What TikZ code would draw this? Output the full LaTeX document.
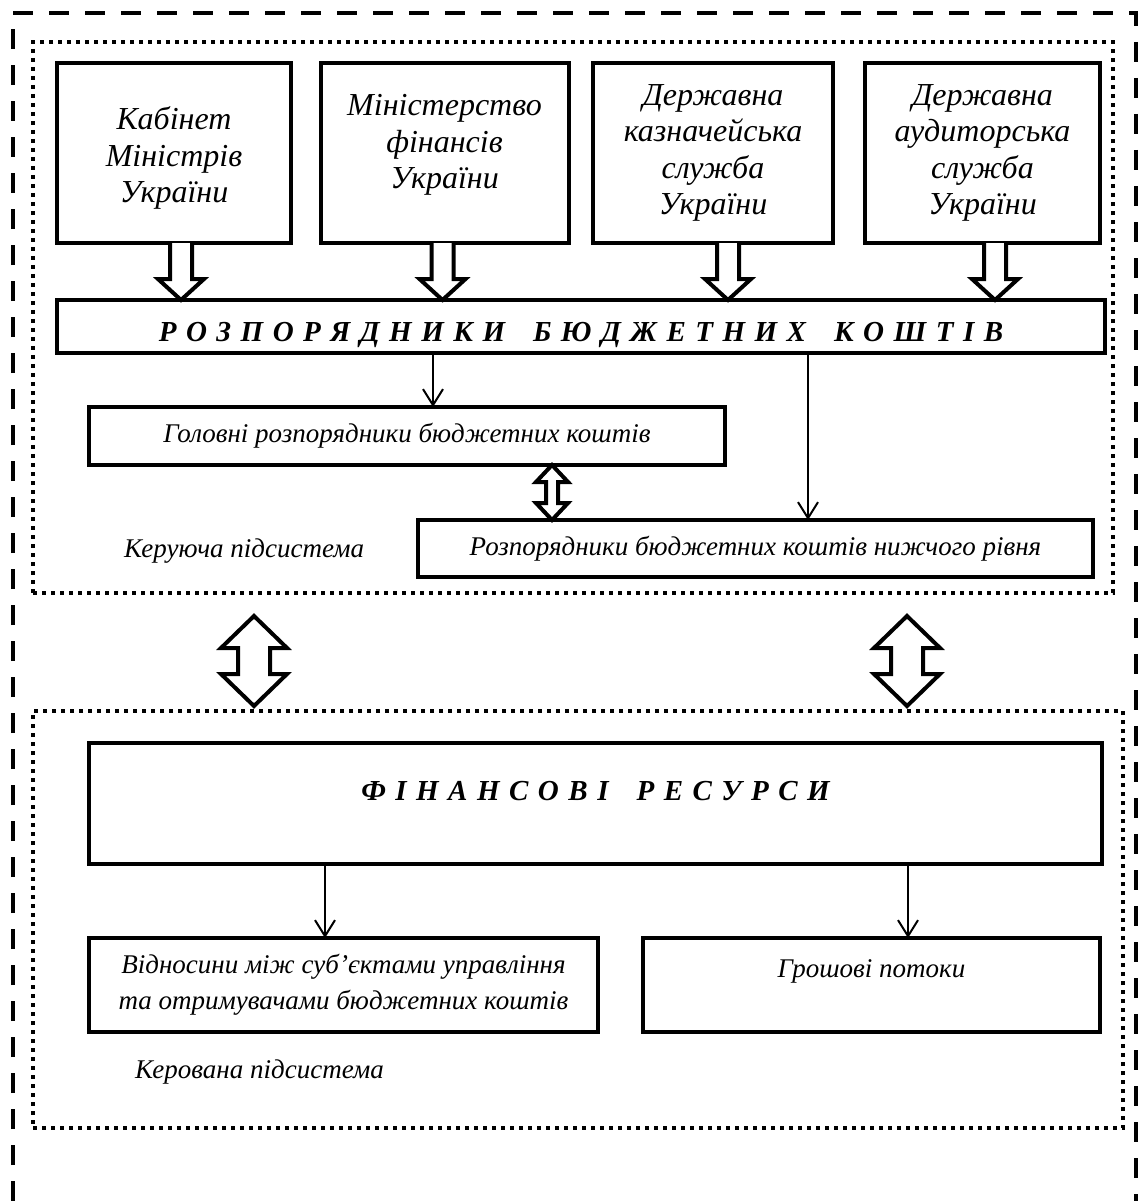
\documentclass[tikz,border=0pt]{standalone}
\usepackage{fontspec}
\setmainfont{Liberation Serif}
\usetikzlibrary{calc, arrows.meta}

\newcommand{\headfont}{\fontsize{29}{34}\selectfont\bfseries\itshape\spaceskip 9.5pt\relax}
\newcommand{\hollowdown}[3]{% #1 upper box, #2 lower box, #3 shift of the shaft
\draw[hollow] let \p1=([xshift=#3]#1.south), \p2=(#2.north) in
  (\x1-11pt,\y1) -- (\x1-11pt,\y2+21pt) -- (\x1-23pt,\y2+21pt) -- (\x1,\y2)
  -- (\x1+23pt,\y2+21pt) -- (\x1+11pt,\y2+21pt) -- (\x1+11pt,\y1);}
\newcommand{\twoway}[5]{% #1 top tip, #2 bottom tip, #3 half head, #4 half shaft, #5 head length
\draw[hollow] let \p1=(#1), \p2=(#2) in
  (\x1,\y1) -- (\x1+#3,\y1-#5) -- (\x1+#4,\y1-#5) -- (\x1+#4,\y2+#5)
  -- (\x1+#3,\y2+#5) -- (\x1,\y2) -- (\x1-#3,\y2+#5) -- (\x1-#4,\y2+#5)
  -- (\x1-#4,\y1-#5) -- (\x1-#3,\y1-#5) -- cycle;}

\begin{document}
\begin{tikzpicture}[x=1pt, y=-1pt,
  box/.style={draw, line width=4pt, inner sep=0pt, outer sep=0pt, align=center},
  topbox/.style={box, minimum width=#1, minimum height=180pt, font=\fontsize{32}{36.5}\selectfont\itshape},
  toptext/.style={font=\fontsize{32}{36.5}\selectfont\itshape, inner sep=0pt, align=center},
  midbox/.style={box, font=\fontsize{27}{36}\selectfont\itshape},
  plain/.style={font=\fontsize{27}{36}\selectfont\itshape, inner sep=0pt},
  headtext/.style={font=\headfont, inner sep=0pt},
  dotframe/.style={draw, line width=4pt, dash pattern=on 4pt off 5pt, inner sep=0pt, outer sep=0pt},
  hollow/.style={line width=4pt, line join=miter, fill=white},
  thinarr/.style={line width=2pt, -{Straight Barb[length=16pt, width=20pt]}}]%budget system
\useasboundingbox (0,0) rectangle (1138,1201);
\draw[line width=4pt, dash pattern=on 20pt off 16pt] (13,1201) -- (13,13) -- (1136,13) -- (1136,1201);

\node[dotframe, minimum width=1080pt, minimum height=551pt] (upsys) at (573,317.5) {};
\node[dotframe, minimum width=1090pt, minimum height=417pt] (lowsys) at (578,919.5) {};

\node[topbox=234pt] (kab) at (174,153) {};
\node[toptext] (kabtext) at ([yshift=-5pt]kab.center) {Кабінет\\Міністрів\\України};
\node[topbox=248pt] (min) at (444.5,153) {};
\node[toptext] (mintext) at ([yshift=8pt]min.center) {Міністерство\\фінансів\\України};
\node[topbox=240pt] (kaz) at (713,153) {Державна\\казначейська\\служба\\України};
\node[topbox=235pt] (aud) at (982.5,153) {Державна\\аудиторська\\служба\\України};

\node[box, minimum width=1048pt, minimum height=53pt] (roz) at (581,326.5) {};
\node[headtext, anchor=base] (roztext) at ([yshift=-15pt]roz.center)
  {Р О З П О Р Я Д Н И К И\hspace{28pt}Б Ю Д Ж Е Т Н И Х\hspace{28pt}К О Ш Т І В};

\hollowdown{kab}{roz}{7pt}
\hollowdown{min}{roz}{-2pt}
\hollowdown{kaz}{roz}{15pt}
\hollowdown{aud}{roz}{12.5pt}

\node[midbox, minimum width=636pt, minimum height=58pt] (golov) at (407,436) {Головні розпорядники бюджетних коштів};
\node[midbox, minimum width=675pt, minimum height=57pt] (nyzh) at (755.5,548.5) {Розпорядники бюджетних коштів нижчого рівня};
\node[plain, anchor=base west] (keruy) at (124,557) {Керуюча підсистема};

\coordinate (g1) at ([xshift=26pt]golov.north);
\coordinate (n1) at ([xshift=52.5pt]nyzh.north);
\draw[thinarr] (g1 |- roz.south) -- (g1);
\draw[thinarr] (n1 |- roz.south) -- (n1);
\coordinate (d1) at ([xshift=145pt]golov.south);
\twoway{d1}{d1 |- nyzh.north}{16pt}{6pt}{17pt}

\coordinate (la1) at ($(upsys.south west)+(221,23)$);
\coordinate (la2) at ($(lowsys.north west)+(221,-5)$);
\coordinate (ra1) at ($(upsys.south east)+(-206,23)$);
\coordinate (ra2) at (ra1 |- la2);
\twoway{la1}{la2}{33pt}{16pt}{32pt}
\twoway{ra1}{ra2}{33pt}{16pt}{32pt}

\node[box, minimum width=1013pt, minimum height=121pt] (fin) at (595.5,803.5) {};
\node[headtext, anchor=base] (fintext) at ([yshift=3.5pt]fin.center)
  {Ф І Н А Н С О В І\hspace{28pt}Р Е С У Р С И};

\node[midbox, minimum width=509pt, minimum height=94pt] (vidn) at (343.5,985) {Відносини між суб’єктами управління\\та отримувачами бюджетних коштів};
\node[box, minimum width=457pt, minimum height=94pt] (gros) at (871.5,985) {};
\node[plain, anchor=base] (grostext) at ([yshift=8pt]gros.center) {Грошові потоки};
\node[plain, anchor=base west] (kerov) at (135,1078) {Керована підсистема};

\coordinate (v1) at ([xshift=-18.5pt]vidn.north);
\coordinate (h1) at ([xshift=36.5pt]gros.north);
\draw[thinarr] (v1 |- fin.south) -- (v1);
\draw[thinarr] (h1 |- fin.south) -- (h1);
\end{tikzpicture}
\end{document}
